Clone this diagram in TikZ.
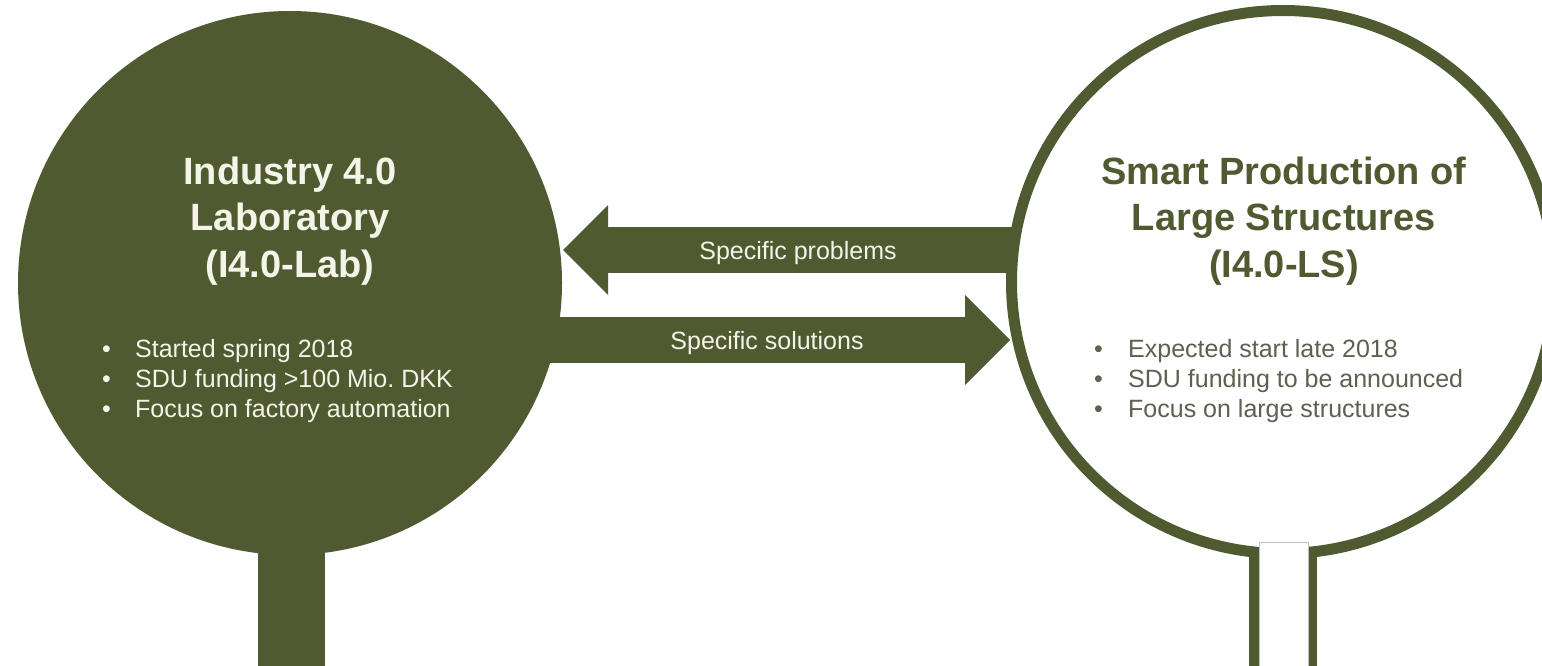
\documentclass[tikz,border=0pt]{standalone}
\usepackage{fontspec}
\setmainfont{Liberation Sans}
\usepackage{xcolor}
\usetikzlibrary{arrows.meta, positioning}

\definecolor{olivedark}{RGB}{79,90,49}
\definecolor{cream}{RGB}{244,244,232}
\definecolor{olivegray}{RGB}{92,97,80}

\begin{document}
\begin{tikzpicture}[x=1pt, y=-1pt,
  title/.style={align=center, font=\fontsize{38}{46.5}\selectfont\bfseries, inner sep=0pt},
  bullets/.style={align=left, anchor=west, font=\fontsize{25}{30}\selectfont, inner sep=0pt},
  flow/.style={draw=olivedark, line width=46pt, -{Triangle[length=45pt, width=90pt, line width=0pt]}},
  flowlabel/.style={font=\fontsize{25}{30}\selectfont, text=cream, inner sep=0pt}]

  \useasboundingbox (0,0) rectangle (1542,666);

  % left lab: stem and circle
  \fill[olivedark] (258,500) rectangle (325,670);
  \node[circle, fill=olivedark, minimum size=544pt, inner sep=0pt] (lab) at (290,283) {};

  % flows between the two
  \coordinate (prob-start) at (1014,250);
  \coordinate (prob-end) at (563,250);
  \coordinate (sol-start) at (540,340);
  \coordinate (sol-end) at (1010,340);
  \draw[flow] (prob-start) -- (prob-end);
  \draw[flow] (sol-start) -- (sol-end);

  % right lab: stem and ring
  \fill[olivedark] (1249,520) rectangle (1317,670);
  \node[circle, draw=olivedark, fill=white, line width=11pt, minimum size=543pt, inner sep=0pt] (ls) at (1283,282) {};
  \draw[draw=black!25, fill=white, line width=0.6pt] (1259,542) rectangle (1308,670);

  % texts
  \node[title, text=cream] (lab-title) at (290,221) {Industry 4.0\\Laboratory\\(I4.0-Lab)};
  \node[bullets, text=cream] (lab-list) at (102,381)
    {\makebox[33pt][l]{•}Started spring 2018\\
     \makebox[33pt][l]{•}SDU funding >100 Mio.\ DKK\\
     \makebox[33pt][l]{•}Focus on factory automation};

  \node[title, text=olivedark] (ls-title) at (1284,221) {Smart Production of\\Large Structures\\(I4.0-LS)};
  \node[bullets, text=olivegray] (ls-list) at (1094,381)
    {\makebox[34pt][l]{•}Expected start late 2018\\
     \makebox[34pt][l]{•}SDU funding to be announced\\
     \makebox[34pt][l]{•}Focus on large structures};

  \node[flowlabel] (prob-label) at (798,253) {Specific problems};
  \node[flowlabel] (sol-label) at (767,343) {Specific solutions};
\end{tikzpicture}
\end{document}
